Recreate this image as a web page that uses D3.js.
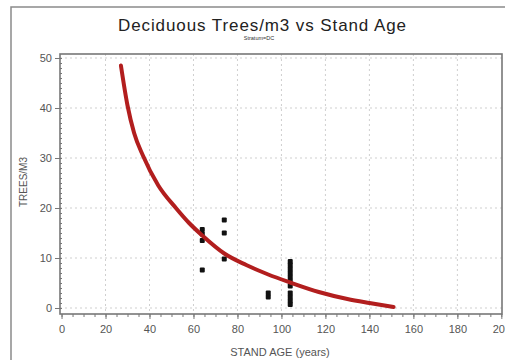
<!DOCTYPE html>
<html>
<head>
<meta charset="utf-8">
<script src="https://cdn.jsdelivr.net/npm/d3@7"></script>
<style>
  body { margin: 0; background: #fff; }
  svg { display: block; font-family: "Liberation Sans", Arial, sans-serif; }
</style>
</head>
<body>
<div id="chart"></div>
<script>
// observed plots (stand age in years, trees per m3)
var standAge = [64, 64, 64, 64, 74, 74, 74, 94, 94,
                104, 104, 104, 104, 104, 104, 104, 104, 104, 104, 104];
var treesM3 = [15.7, 14.8, 13.5, 7.6, 17.6, 15.0, 9.8, 3.0, 2.2,
               9.3, 8.6, 7.8, 7.0, 6.2, 5.4, 4.4, 3.0, 2.2, 1.4, 0.7];

// fitted curve
var fitAge = [27, 30, 33, 37, 44, 52, 58, 64, 74, 84, 94, 104, 117, 130, 140, 151];
var fitTrees = [48.5, 40.5, 35, 30.5, 24.5, 20, 17, 14.5, 10.9, 8.6, 6.7, 5.1, 3.2, 1.8, 1.0, 0.2];

var xTicks = [0, 20, 40, 60, 80, 100, 120, 140, 160, 180, 200];
var yTicks = [0, 10, 20, 30, 40, 50];

var width = 505, height = 360;
var plotLeft = 60, plotRight = 502, plotTop = 54, plotBottom = 314;

var svg = d3.select("#chart").append("svg")
  .attr("width", width)
  .attr("height", height);

var x = d3.scaleLinear().domain([-0.7, 200.3]).range([plotLeft, plotRight]);
var y = d3.scaleLinear().domain([-1.2, 50.8]).range([plotBottom, plotTop]);

// outer border of the graph
svg.append("path")
  .attr("d", "M11,360 L11,7 L505,7")
  .attr("fill", "none")
  .attr("stroke", "#8a8a8a")
  .attr("stroke-width", 1.5);

// title
svg.append("text")
  .attr("x", 262).attr("y", 31)
  .attr("text-anchor", "middle")
  .attr("font-size", 17)
  .attr("fill", "#222")
  .attr("textLength", 288)
  .text("Deciduous Trees/m3 vs Stand Age");

svg.append("text")
  .attr("x", 259).attr("y", 40)
  .attr("text-anchor", "middle")
  .attr("font-size", 5.5)
  .attr("fill", "#333")
  .text("Stratum=DC");

// grid
var grid = svg.append("g").attr("stroke", "#cfcfcf").attr("stroke-dasharray", "2,3");
grid.selectAll(null)
  .data(xTicks.slice(1, -1))
  .enter().append("line")
  .attr("x1", function(d) { return x(d); })
  .attr("x2", function(d) { return x(d); })
  .attr("y1", plotTop).attr("y2", plotBottom);
grid.selectAll(null)
  .data(yTicks)
  .enter().append("line")
  .attr("x1", plotLeft).attr("x2", plotRight)
  .attr("y1", function(d) { return y(d); })
  .attr("y2", function(d) { return y(d); });

// axes
var xAxis = svg.append("g")
  .attr("transform", "translate(0," + plotBottom + ")")
  .call(d3.axisBottom(x).tickValues(d3.range(0, 201, 5)).tickSize(3).tickFormat(""));
xAxis.append("g")
  .call(d3.axisBottom(x).tickValues(xTicks).tickSize(5).tickPadding(6));

var yAxis = svg.append("g")
  .attr("transform", "translate(" + plotLeft + ",0)")
  .call(d3.axisLeft(y).tickValues(d3.range(0, 51, 1)).tickSize(-2).tickFormat(""));
yAxis.append("g")
  .call(d3.axisLeft(y).tickValues(yTicks).tickSize(5).tickPadding(3));

svg.selectAll(".domain").remove();
svg.selectAll(".tick line").attr("stroke", "#777");
svg.selectAll(".tick text")
  .attr("font-size", 11)
  .attr("fill", "#555")
  .attr("font-family", "Liberation Sans, Arial, sans-serif");

// frame
svg.append("rect")
  .attr("x", plotLeft).attr("y", plotTop)
  .attr("width", plotRight - plotLeft).attr("height", plotBottom - plotTop)
  .attr("fill", "none")
  .attr("stroke", "#777")
  .attr("stroke-width", 1.6);

// axis labels
svg.append("text")
  .attr("transform", "translate(27,182) rotate(-90)")
  .attr("text-anchor", "middle")
  .attr("font-size", 10)
  .attr("fill", "#555")
  .text("TREES/M3");

svg.append("text")
  .attr("x", 280).attr("y", 356)
  .attr("text-anchor", "middle")
  .attr("font-size", 11)
  .attr("fill", "#555")
  .text("STAND AGE (years)");

// points
svg.append("g").selectAll("rect")
  .data(standAge)
  .enter().append("rect")
  .attr("x", function(d) { return x(d) - 2.5; })
  .attr("y", function(d, i) { return y(treesM3[i]) - 2.5; })
  .attr("width", 5).attr("height", 5)
  .attr("rx", 1)
  .attr("fill", "#111");

// fitted curve
var line = d3.line()
  .x(function(d) { return x(d); })
  .y(function(d, i) { return y(fitTrees[i]); })
  .curve(d3.curveMonotoneX);

svg.append("path")
  .datum(fitAge)
  .attr("d", line)
  .attr("fill", "none")
  .attr("stroke", "#b21e1e")
  .attr("stroke-width", 4)
  .attr("stroke-linecap", "round");
</script>
</body>
</html>
